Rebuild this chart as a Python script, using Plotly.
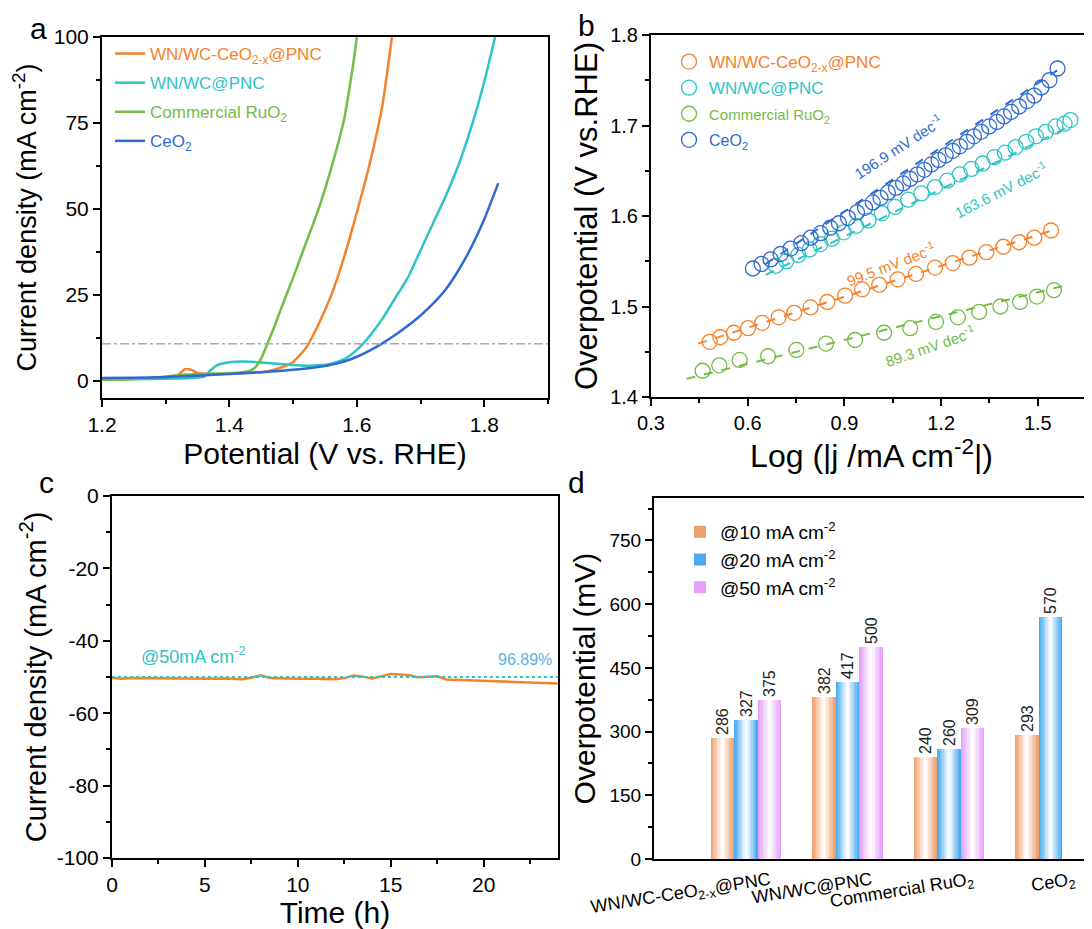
import plotly.graph_objects as go

FONT = "Liberation Sans, Arial, sans-serif"

# ---- panel a: LSV curves ----
pot_ruo2 = [1.20, 1.25, 1.30, 1.33, 1.36, 1.40, 1.43, 1.44, 1.45, 1.46, 1.47, 1.48, 1.50, 1.52, 1.54, 1.56, 1.58, 1.59, 1.595, 1.60]
j_ruo2 = [0.3, 0.5, 1.2, 1.8, 2.0, 2.2, 2.8, 3.8, 6.5, 11.0, 15.5, 20.5, 30, 40, 50, 62, 76, 87, 93, 100]

pot_wnce = [1.20, 1.25, 1.30, 1.32, 1.33, 1.34, 1.35, 1.38, 1.42, 1.46, 1.48, 1.50, 1.52, 1.54, 1.56, 1.58, 1.60, 1.62, 1.64, 1.655]
j_wnce = [0.3, 0.5, 1.0, 1.8, 3.4, 3.2, 2.3, 2.0, 2.2, 2.8, 3.8, 5.5, 9.5, 16.5, 25, 36, 49, 63, 80, 100]

pot_wn = [1.20, 1.25, 1.30, 1.34, 1.36, 1.37, 1.38, 1.40, 1.42, 1.44, 1.46, 1.48, 1.50, 1.52, 1.54, 1.56, 1.58, 1.60,
          1.62, 1.64, 1.66, 1.68, 1.70, 1.72, 1.74, 1.76, 1.78, 1.80, 1.817]
j_wn = [0.5, 0.5, 0.6, 0.8, 1.2, 3.0, 4.5, 5.4, 5.6, 5.5, 5.2, 4.9, 4.6, 4.4, 4.5, 5.0, 6.3, 9.0,
        13, 18, 24, 30, 38, 46, 54, 63, 74, 87, 100]

pot_ceo2 = [1.20, 1.25, 1.30, 1.35, 1.40, 1.45, 1.50, 1.55, 1.58, 1.60, 1.62, 1.64, 1.66, 1.68, 1.70, 1.72, 1.74, 1.76, 1.78, 1.80, 1.822]
j_ceo2 = [0.8, 0.9, 1.1, 1.5, 2.0, 2.5, 3.2, 4.3, 5.6, 7.0, 8.8, 10.9, 13.3, 16.0, 19.0, 22.5, 26.7, 32.3, 39.0, 47.0, 57.5]

ref_j = 10.8

# ---- panel b: Tafel ----
tf_wnce_x = [0.482, 0.515, 0.557, 0.601, 0.645, 0.696, 0.744, 0.795, 0.847, 0.902, 0.955, 1.008, 1.065, 1.122, 1.181, 1.236, 1.288, 1.340, 1.393, 1.442, 1.489, 1.541]
tf_wnce_y = [1.461, 1.466, 1.471, 1.476, 1.482, 1.488, 1.493, 1.499, 1.505, 1.512, 1.519, 1.524, 1.530, 1.536, 1.543, 1.548, 1.554, 1.560, 1.566, 1.571, 1.576, 1.584]
fit_wnce_x = [0.446, 1.561]
fit_wnce_y = [1.459, 1.586]

tf_wn_x = [0.687, 0.720, 0.757, 0.792, 0.825, 0.861, 0.898, 0.936, 0.975, 1.016, 1.057, 1.098, 1.139, 1.181, 1.219, 1.258,
           1.294, 1.329, 1.365, 1.398, 1.431, 1.464, 1.494, 1.525, 1.555, 1.583, 1.601]
tf_wn_y = [1.545, 1.550, 1.557, 1.563, 1.569, 1.575, 1.582, 1.589, 1.595, 1.603, 1.610, 1.618, 1.625, 1.632, 1.639, 1.646,
           1.652, 1.658, 1.665, 1.670, 1.676, 1.682, 1.688, 1.693, 1.699, 1.702, 1.706]
fit_wn_x = [0.656, 1.599]
fit_wn_y = [1.535, 1.699]

tf_ruo2_x = [0.460, 0.512, 0.575, 0.663, 0.751, 0.843, 0.933, 1.023, 1.104, 1.184, 1.252, 1.318, 1.384, 1.445, 1.497, 1.550]
tf_ruo2_y = [1.429, 1.435, 1.441, 1.445, 1.452, 1.459, 1.463, 1.471, 1.476, 1.483, 1.488, 1.494, 1.500, 1.505, 1.511, 1.518]
fit_ruo2_x = [0.410, 1.594]
fit_ruo2_y = [1.420, 1.524]

tf_ceo2_x = [0.616, 0.643, 0.671, 0.702, 0.733, 0.766, 0.795, 0.826, 0.856, 0.883, 0.911, 0.939, 0.964, 0.988, 1.012, 1.035,
             1.060, 1.082, 1.104, 1.126, 1.148, 1.170, 1.192, 1.214, 1.236, 1.258, 1.280, 1.302, 1.324, 1.349, 1.373,
             1.395, 1.417, 1.442, 1.467, 1.489, 1.511, 1.536, 1.561]
tf_ceo2_y = [1.542, 1.547, 1.552, 1.558, 1.564, 1.570, 1.576, 1.581, 1.587, 1.592, 1.598, 1.604, 1.609, 1.615, 1.620, 1.626,
             1.631, 1.636, 1.641, 1.646, 1.651, 1.657, 1.662, 1.667, 1.672, 1.677, 1.682, 1.688, 1.693, 1.699, 1.704,
             1.710, 1.715, 1.721, 1.727, 1.733, 1.742, 1.750, 1.763]
fit_ceo2_x = [0.655, 1.560]
fit_ceo2_y = [1.547, 1.761]

# ---- panel c: stability ----
time_h = [0, 0.5, 1, 2, 3, 4, 5, 6, 7, 7.5, 8, 8.5, 9, 10, 11, 12, 12.5, 13, 13.5, 14, 14.5, 15, 15.5, 16, 16.5, 17, 17.5,
          18, 19, 20, 21, 22, 23, 24]
j_time = [-50.2, -50.5, -50.3, -50.4, -50.4, -50.6, -50.5, -50.4, -50.6, -50.2, -49.5, -50.3, -50.4, -50.5, -50.5, -50.6,
          -50.3, -49.6, -49.9, -50.4, -49.8, -49.2, -49.3, -49.5, -50.1, -49.9, -49.8, -50.7, -50.9, -51.0, -51.2,
          -51.5, -51.6, -51.8]
base_time = [0, 24]
base_j = [-50, -50]
c_ytick_vals = [0, -20, -40, -60, -80, -100]
c_ytick_text = ["0", "-20", "-40", "-60", "-80", "-100"]

# ---- panel d: overpotentials ----
catalysts = ["WN/WC-CeO<sub>2-x</sub>@PNC", "WN/WC@PNC", "Commercial RuO<sub>2</sub>", "CeO<sub>2</sub>"]
cat_pos = [1, 2, 3, 4]
eta10 = [286, 382, 240, 293]
eta20 = [327, 417, 260, 570]
eta50 = [375, 500, 309, None]

C_OR, C_CY, C_GR, C_BL = "#F5822A", "#2DC4C6", "#74BC45", "#2F6AD2"

# page body has an 8px margin: figure is drawn 8px in from the top-left
W, H, OFF = 1084, 921, 8


def px(x):
    return (x - OFF) / W


def py(y):
    return 1 - (y - OFF) / H


def col(name, c, size=None):
    st = f"color:{c}" + (f";font-size:{size}px" if size else "")
    return f"<span style='{st}'>{name}</span>"


fig = go.Figure()

# panel a
for x, y, name, c in [(pot_wnce, j_wnce, "WN/WC-CeO<sub>2-x</sub>@PNC", C_OR),
                      (pot_wn, j_wn, "WN/WC@PNC", C_CY),
                      (pot_ruo2, j_ruo2, "Commercial RuO<sub>2</sub>", C_GR),
                      (pot_ceo2, j_ceo2, "CeO<sub>2</sub>", C_BL)]:
    fig.add_trace(go.Scatter(x=x, y=y, mode="lines", line=dict(color=c, width=2.5, shape="spline", smoothing=0.5),
                             name=col(name, c), legend="legend", legendgroup="a" + name, xaxis="x", yaxis="y"))
fig.add_shape(type="line", xref="x domain", yref="y", x0=0, x1=1, y0=ref_j, y1=ref_j,
              line=dict(color="#AAAAAA", width=1.5, dash="dashdot"))

# panel b
for tx, ty, fx, fy, name, c, fs in [(tf_wnce_x, tf_wnce_y, fit_wnce_x, fit_wnce_y, "WN/WC-CeO<sub>2-x</sub>@PNC", C_OR, None),
                                    (tf_wn_x, tf_wn_y, fit_wn_x, fit_wn_y, "WN/WC@PNC", C_CY, None),
                                    (tf_ruo2_x, tf_ruo2_y, fit_ruo2_x, fit_ruo2_y, "Commercial RuO<sub>2</sub>", C_GR, 15),
                                    (tf_ceo2_x, tf_ceo2_y, fit_ceo2_x, fit_ceo2_y, "CeO<sub>2</sub>", C_BL, 16)]:
    fig.add_trace(go.Scatter(x=fx, y=fy, mode="lines", line=dict(color=c, width=2, dash="dash"),
                             showlegend=False, legendgroup="b" + name, xaxis="x2", yaxis="y2"))
    fig.add_trace(go.Scatter(x=tx, y=ty, mode="markers", name=col(name, c, fs), legend="legend2", legendgroup="b" + name,
                             marker=dict(symbol="circle-open", size=15, color=c, line=dict(width=1.3)),
                             xaxis="x2", yaxis="y2"))

slopes = [("196.9 mV dec<sup>-1</sup>", 1.065, 1.677, -33, C_BL),
          ("163.6 mV dec<sup>-1</sup>", 1.385, 1.629, -27, C_CY),
          ("99.5 mV dec<sup>-1</sup>", 1.045, 1.547, -21, C_OR),
          ("89.3 mV dec<sup>-1</sup>", 1.165, 1.457, -19, C_GR)]
for t, x, y, ang, c in slopes:
    fig.add_annotation(text=t, x=x, y=y, xref="x2", yref="y2", showarrow=False, textangle=ang,
                       font=dict(size=15, color=c))

# panel c
fig.add_trace(go.Scatter(x=time_h, y=j_time, mode="lines", line=dict(color=C_OR, width=2.5),
                         showlegend=False, xaxis="x3", yaxis="y3"))
fig.add_trace(go.Scatter(x=base_time, y=base_j, mode="lines", line=dict(color=C_CY, width=1.8, dash="dot"),
                         showlegend=False, xaxis="x3", yaxis="y3"))
fig.add_annotation(text="@50mA cm<sup>-2</sup>", x=4.4, y=-44, xref="x3", yref="y3", showarrow=False,
                   font=dict(size=18, color=C_CY))
fig.add_annotation(text="96.89%", x=22.2, y=-45.2, xref="x3", yref="y3", showarrow=False,
                   font=dict(size=16, color="#5AB2E8"))

# panel d: bars with a side-to-centre white gradient
bw = 0.2325
bar_series = [(eta10, "@10 mA cm<sup>-2</sup>", (238, 160, 110)),
              (eta20, "@20 mA cm<sup>-2</sup>", (72, 170, 240)),
              (eta50, "@50 mA cm<sup>-2</sup>", (228, 160, 250))]
n_layers = 9
for k, (vals, name, rgb) in enumerate(bar_series):
    left = (k - 1.5) * bw
    labels = ["" if v is None else str(v) for v in vals]
    for i in range(n_layers):
        frac = 1 - i / n_layers
        t = i / (n_layers - 1)
        c = "rgb({},{},{})".format(*[round(v + (255 - v) * t * 0.97) for v in rgb])
        w = bw * frac
        fig.add_trace(go.Bar(
            x=cat_pos, y=vals, width=w, offset=left + (bw - w) / 2,
            marker=dict(color=c, line=dict(width=0)),
            name=name, showlegend=(i == 0), legend="legend3",
            text=labels if i == 0 else None, textposition="outside" if i == 0 else "none",
            textangle=-90, constraintext="none", cliponaxis=False,
            textfont=dict(size=16, color="#222222"),
            hoverinfo="skip" if i else None,
            xaxis="x4", yaxis="y4"))

ax = dict(showline=True, linecolor="black", linewidth=2, mirror=True, ticks="outside", ticklen=7, tickwidth=2,
          tickcolor="black", showgrid=False, zeroline=False, automargin=False,
          tickfont=dict(size=21, color="black"))
mn = dict(ticks="outside", ticklen=4, tickwidth=1.5, tickcolor="black")


def ttl(text, size, standoff):
    return dict(text=text, standoff=standoff, font=dict(size=size, color="black"))


fig.update_layout(
    width=W, height=H, margin=dict(l=0, r=0, t=0, b=0),
    plot_bgcolor="white", paper_bgcolor="white", font=dict(family=FONT, color="black"),
    barmode="overlay", bargap=0,
    xaxis=dict(ax, domain=[px(102), px(548)], anchor="y", range=[1.2, 1.9], tick0=1.2, dtick=0.2,
               minor=dict(mn, dtick=0.1), title=ttl("Potential (V vs. RHE)", 30, 8)),
    yaxis=dict(ax, domain=[py(398), py(37)], anchor="x", range=[-5, 100], tick0=0, dtick=25,
               minor=dict(mn, dtick=12.5), title=ttl("Current density (mA cm<sup>-2</sup>)", 27, 9)),
    xaxis2=dict(ax, domain=[px(651), 1.0], anchor="y2", range=[0.3, 1.668], tick0=0.3, dtick=0.3,
                minor=dict(mn, dtick=0.15), tickformat=".1f", tickfont=dict(size=20),
                title=ttl("Log (|j /mA cm<sup>-2</sup>|)", 32, 11)),
    yaxis2=dict(ax, domain=[py(397), py(35)], anchor="x2", range=[1.4, 1.8], tick0=1.4, dtick=0.1, mirror=False,
                minor=dict(mn, dtick=0.05), tickformat=".1f", tickfont=dict(size=20),
                title=ttl("Overpotential (V vs.RHE)", 31, 3)),
    xaxis3=dict(ax, domain=[px(112), px(558)], anchor="y3", range=[0, 24], tick0=0, dtick=5,
                minor=dict(mn, dtick=2.5), title=ttl("Time (h)", 30, 9)),
    yaxis3=dict(ax, domain=[py(858), py(496)], anchor="x3", range=[-100, 0], tickvals=c_ytick_vals,
                ticktext=c_ytick_text, minor=dict(mn, dtick=10),
                title=ttl("Current density (mA cm<sup>-2</sup>)", 29, 2)),
    xaxis4=dict(ax, domain=[px(654), 1.0], anchor="y4", range=[0.094, 4.41], tickvals=cat_pos, ticktext=catalysts,
                ticks="", tickangle=-9, ticklabelshift=24, ticklabelstandoff=2,
                tickfont=dict(size=18, color="black")),
    yaxis4=dict(ax, domain=[py(859), py(498)], anchor="x4", range=[0, 850], tick0=0, dtick=150, mirror=False,
                minor=dict(mn, dtick=75), tickfont=dict(size=19),
                title=ttl("Overpotential (mV)", 30, 5)),
    legend=dict(x=px(110), y=py(36), xanchor="left", yanchor="top", bgcolor="rgba(0,0,0,0)",
                font=dict(size=17), tracegroupgap=4),
    legend2=dict(x=px(669), y=py(44), xanchor="left", yanchor="top", bgcolor="rgba(0,0,0,0)",
                 font=dict(size=17), tracegroupgap=1),
    legend3=dict(x=px(680), y=py(513), xanchor="left", yanchor="top", bgcolor="rgba(0,0,0,0)",
                 font=dict(size=19), tracegroupgap=1),
)

for letter, x, y in [("a", 38, 28), ("b", 586, 25), ("c", 46, 482), ("d", 576, 482)]:
    fig.add_annotation(text=letter, x=px(x), y=py(y), xref="paper", yref="paper", showarrow=False,
                       xanchor="center", yanchor="middle", font=dict(size=30, color="black"))

fig.write_html("out.html")
